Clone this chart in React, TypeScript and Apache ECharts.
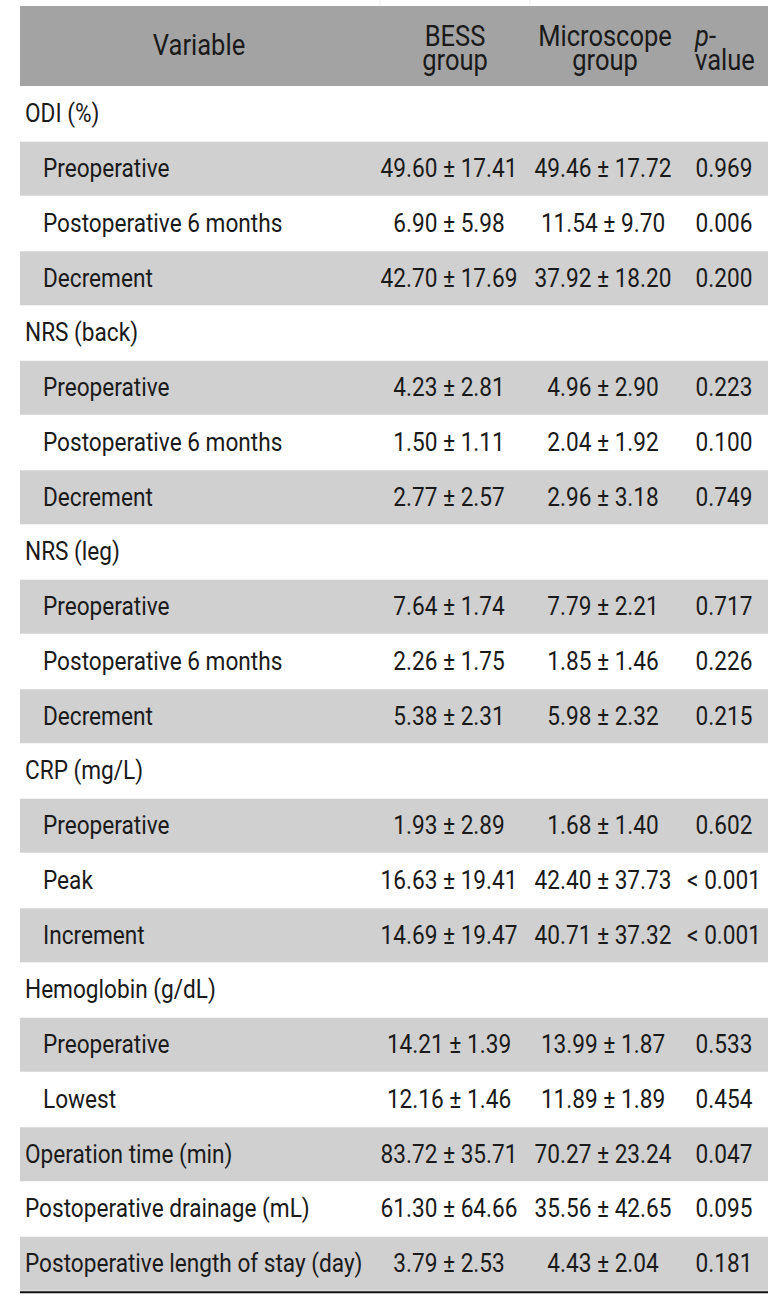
import React, { useEffect, useRef } from "react";
import * as echarts from "echarts";

const headers = ["Variable", "BESS\ngroup", "Microscope\ngroup", "{i|p}-\nvalue"];

const rowLabels = [
  "ODI (%)", "Preoperative", "Postoperative 6 months", "Decrement",
  "NRS (back)", "Preoperative", "Postoperative 6 months", "Decrement",
  "NRS (leg)", "Preoperative", "Postoperative 6 months", "Decrement",
  "CRP (mg/L)", "Preoperative", "Peak", "Increment",
  "Hemoglobin (g/dL)", "Preoperative", "Lowest",
  "Operation time (min)", "Postoperative drainage (mL)", "Postoperative length of stay (day)",
];

// 0 = group heading / top-level variable, 1 = sub-item
const rowLevel = [0, 1, 1, 1, 0, 1, 1, 1, 0, 1, 1, 1, 0, 1, 1, 1, 0, 1, 1, 0, 0, 0];
// rows that are section headings (no values)
const isHeading = [true, false, false, false, true, false, false, false, true, false, false, false, true, false, false, false, true, false, false, false, false, false];

const bessValues = [
  "", "49.60 ± 17.41", "6.90 ± 5.98", "42.70 ± 17.69",
  "", "4.23 ± 2.81", "1.50 ± 1.11", "2.77 ± 2.57",
  "", "7.64 ± 1.74", "2.26 ± 1.75", "5.38 ± 2.31",
  "", "1.93 ± 2.89", "16.63 ± 19.41", "14.69 ± 19.47",
  "", "14.21 ± 1.39", "12.16 ± 1.46",
  "83.72 ± 35.71", "61.30 ± 64.66", "3.79 ± 2.53",
];

const microValues = [
  "", "49.46 ± 17.72", "11.54 ± 9.70", "37.92 ± 18.20",
  "", "4.96 ± 2.90", "2.04 ± 1.92", "2.96 ± 3.18",
  "", "7.79 ± 2.21", "1.85 ± 1.46", "5.98 ± 2.32",
  "", "1.68 ± 1.40", "42.40 ± 37.73", "40.71 ± 37.32",
  "", "13.99 ± 1.87", "11.89 ± 1.89",
  "70.27 ± 23.24", "35.56 ± 42.65", "4.43 ± 2.04",
];

const pValues = [
  "", "0.969", "0.006", "0.200",
  "", "0.223", "0.100", "0.749",
  "", "0.717", "0.226", "0.215",
  "", "0.602", "< 0.001", "< 0.001",
  "", "0.533", "0.454",
  "0.047", "0.095", "0.181",
];

export default function App() {
  const ref = useRef<HTMLDivElement>(null);

  useEffect(() => {
    document.body.style.margin = "0";
    const chart = echarts.init(ref.current!, null, { renderer: "svg" });

    const FONT = "Roboto";
    const FS = 25;
    const SX = 0.905;
    const HFS = 29;
    const HSX = 0.88;
    const TXT = "#1a1a1a";
    const left = 20;
    const right = 768;
    const headTop = 6;
    const headBottom = 86;
    const top0 = 87;
    const pitch = 54.75;
    const rowH = 54;
    const subX = 43;
    const groupX = 25;

    const els: any[] = [];

    // faint lines above header
    els.push({ type: "line", shape: { x1: 380, y1: 0, x2: 380, y2: headTop }, style: { stroke: "#ececec", lineWidth: 1 } });
    els.push({ type: "line", shape: { x1: 530, y1: 0, x2: 530, y2: headTop }, style: { stroke: "#ececec", lineWidth: 1 } });

    // header
    els.push({ type: "rect", shape: { x: left, y: headTop, width: right - left, height: headBottom - headTop }, style: { fill: "#a3a3a3" } });
    const headAligns = ["center", "center", "center", "left"];
    const headXs = [199, 455, 605, 695];
    const headYs = [45, 48, 48, 48];
    headers.forEach((h, k) => {
      els.push({
        type: "text",
        x: headXs[k],
        y: headYs[k],
        scaleX: HSX,
        style: {
          text: h,
          fontFamily: FONT,
          fontSize: HFS,
          lineHeight: 24,
          fill: TXT,
          align: headAligns[k],
          verticalAlign: "middle",
          rich: { i: { fontStyle: "italic", fontFamily: FONT, fontSize: HFS, fill: TXT, lineHeight: 24 } },
        },
      });
    });

    // body rows
    let alt = 0;
    rowLabels.forEach((label, i) => {
      const y0 = top0 + i * pitch;
      const cy = y0 + 27;
      if (isHeading[i]) {
        alt = 0;
      } else {
        if (alt % 2 === 0) {
          els.push({ type: "rect", shape: { x: left, y: y0, width: right - left, height: rowH }, style: { fill: "#d0d0d0" } });
        }
        alt++;
      }
      els.push({
        type: "text",
        x: rowLevel[i] === 1 ? subX : groupX,
        y: cy,
        scaleX: SX,
        style: { text: label, fontFamily: FONT, fontSize: FS, fill: TXT, align: "left", verticalAlign: "middle" },
      });
      const vals = [bessValues[i], microValues[i], pValues[i]];
      const vx = [449, 603, 724];
      vals.forEach((v, k) => {
        if (!v) return;
        els.push({
          type: "text",
          x: vx[k],
          y: cy,
          scaleX: SX,
          style: { text: v, fontFamily: FONT, fontSize: FS, fill: TXT, align: "center", verticalAlign: "middle" },
        });
      });
    });

    // bottom rule
    const bottomY = top0 + (rowLabels.length - 1) * pitch + rowH + 1.5;
    els.push({ type: "line", shape: { x1: left, y1: bottomY, x2: right, y2: bottomY }, style: { stroke: "#111111", lineWidth: 2 } });

    chart.setOption({
      animation: false,
      backgroundColor: "#ffffff",
      graphic: { elements: els },
    });

    return () => chart.dispose();
  }, []);

  return <div ref={ref} style={{ width: 780, height: 1298 }} />;
}
